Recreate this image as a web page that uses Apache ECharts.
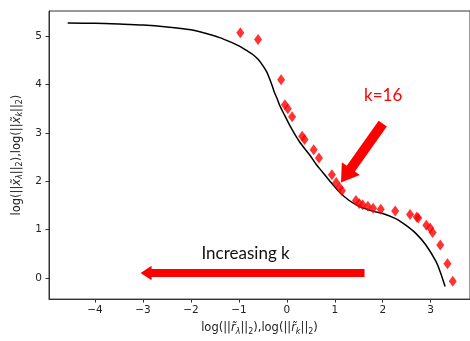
<!DOCTYPE html>
<html>
<head>
<meta charset="utf-8">
<script src="https://cdn.jsdelivr.net/npm/echarts@6/dist/echarts.min.js"></script>
<style>
  html, body { margin: 0; padding: 0; background: #fff; }
  #chart { width: 470px; height: 341px; }
</style>
</head>
<body>
<div id="chart"></div>
<script>
// L-curve (continuous regularisation) — x: log residual norm, y: log solution norm
const curveX = [-4.57, -4.0, -3.5, -3.0, -2.5, -2.0, -1.7, -1.4, -1.2, -1.0, -0.85, -0.71, -0.6, -0.5, -0.42, -0.36, -0.30, -0.26, -0.2, -0.15, -0.05, 0.09, 0.26, 0.47, 0.61, 0.75, 0.89, 1.10, 1.30, 1.51, 1.79, 2.00, 2.28, 2.48, 2.69, 2.90, 3.11, 3.20, 3.30];
const curveY = [5.27, 5.265, 5.25, 5.23, 5.19, 5.13, 5.06, 4.97, 4.89, 4.80, 4.71, 4.62, 4.52, 4.39, 4.26, 4.12, 3.96, 3.84, 3.70, 3.57, 3.37, 3.10, 2.82, 2.55, 2.35, 2.18, 2.01, 1.77, 1.60, 1.48, 1.38, 1.33, 1.22, 1.09, 0.92, 0.68, 0.34, 0.12, -0.18];

// Truncated iterates, one per k
const ptsX = [-0.97, -0.60, -0.12, -0.04, 0.02, 0.11, 0.32, 0.37, 0.56, 0.67, 0.94, 1.03, 1.10, 1.15, 1.44, 1.51, 1.58, 1.69, 1.80, 1.96, 2.26, 2.57, 2.71, 2.74, 2.91, 2.99, 3.04, 3.20, 3.35, 3.46];
const ptsY = [5.07, 4.93, 4.10, 3.58, 3.50, 3.33, 2.93, 2.86, 2.65, 2.48, 2.13, 1.97, 1.87, 1.80, 1.60, 1.54, 1.51, 1.48, 1.44, 1.42, 1.38, 1.31, 1.26, 1.24, 1.09, 1.03, 0.94, 0.68, 0.29, -0.07];

const xTicks = [-4, -3, -2, -1, 0, 1, 2, 3];
const yTicks = [0, 1, 2, 3, 4, 5];

// annotations (data coordinates)
const kArrow = { from: [2.00, 3.19], to: [1.13, 1.97] };
const incArrow = { from: [1.62, 0.10], to: [-3.05, 0.10] };
const kLabel = { text: 'k=16', at: [2.01, 3.77] };
const incLabel = { text: 'Increasing k', at: [-0.86, 0.50] };

const axisColor = '#333';
const minus = v => String(v).replace('-', '\u2212');

const subStyles = {
  r: { fontFamily: 'DejaVu Sans', fontStyle: 'italic', fontSize: 11.5, color: '#222', lineHeight: 15 },
  s: { fontFamily: 'DejaVu Sans', fontStyle: 'italic', fontSize: 8, color: '#222', verticalAlign: 'bottom', lineHeight: 9 },
  n: { fontFamily: 'DejaVu Sans', fontSize: 8, color: '#222', verticalAlign: 'bottom', lineHeight: 9 }
};

const chart = echarts.init(document.getElementById('chart'), null, { renderer: 'canvas' });

chart.setOption({
  animation: false,
  backgroundColor: '#fff',
  grid: { left: 49, top: 11, right: -1, bottom: 38, show: true, borderColor: axisColor, borderWidth: 1 },
  xAxis: {
    type: 'value', min: -4.96, max: 3.82,
    axisLine: { show: true, onZero: false, lineStyle: { color: axisColor, width: 1 } },
    axisTick: { show: true, length: 3.5, customValues: xTicks, lineStyle: { color: axisColor } },
    axisLabel: { customValues: xTicks, formatter: minus, color: '#222', fontFamily: 'DejaVu Sans', fontSize: 10.5, margin: 6 },
    splitLine: { show: false },
    name: 'log(||{r|r\u0303}{s|\u03bb}||{n|2}),log(||{r|r\u0303}{s|k}||{n|2})',
    nameLocation: 'middle', nameGap: 21,
    nameTextStyle: { fontFamily: 'DejaVu Sans', fontSize: 11.5, color: '#222', lineHeight: 15, rich: subStyles }
  },
  yAxis: {
    type: 'value', min: -0.44, max: 5.52,
    axisLine: { show: true, onZero: false, lineStyle: { color: axisColor, width: 1 } },
    axisTick: { show: true, length: 3.5, customValues: yTicks, lineStyle: { color: axisColor } },
    axisLabel: { customValues: yTicks, formatter: minus, color: '#222', fontFamily: 'DejaVu Sans', fontSize: 10.5, margin: 7 },
    splitLine: { show: false },
    name: 'log(||{r|x\u0303}{s|\u03bb}||{n|2}),log(||{r|x\u0303}{s|k}||{n|2})',
    nameLocation: 'middle', nameGap: 23, nameRotate: 90,
    nameTextStyle: { fontFamily: 'DejaVu Sans', fontSize: 11.5, color: '#222', lineHeight: 15, rich: subStyles }
  },
  series: [
    {
      type: 'line',
      data: curveX.map((x, i) => [x, curveY[i]]),
      showSymbol: false,
      smooth: 0.3,
      lineStyle: { color: '#000', width: 1.5 },
      z: 2
    },
    {
      type: 'scatter',
      data: ptsX.map((x, i) => [x, ptsY[i]]),
      symbol: 'diamond',
      symbolSize: [8, 11],
      itemStyle: { color: '#ff0000' },
      z: 3
    }
  ]
});

// Arrow polygon from tail to tip, in pixel space
function arrowShape(fromData, toData, shaftHalf, headHalf, headLen) {
  const t = chart.convertToPixel({ gridIndex: 0 }, fromData);
  const p = chart.convertToPixel({ gridIndex: 0 }, toData);
  const dx = p[0] - t[0], dy = p[1] - t[1];
  const len = Math.hypot(dx, dy);
  const ux = dx / len, uy = dy / len;
  const nx = -uy, ny = ux;
  const b = [p[0] - ux * headLen, p[1] - uy * headLen];
  return [
    [t[0] + nx * shaftHalf, t[1] + ny * shaftHalf],
    [b[0] + nx * shaftHalf, b[1] + ny * shaftHalf],
    [b[0] + nx * headHalf, b[1] + ny * headHalf],
    p,
    [b[0] - nx * headHalf, b[1] - ny * headHalf],
    [b[0] - nx * shaftHalf, b[1] - ny * shaftHalf],
    [t[0] - nx * shaftHalf, t[1] - ny * shaftHalf]
  ];
}

const kPos = chart.convertToPixel({ gridIndex: 0 }, kLabel.at);
const incPos = chart.convertToPixel({ gridIndex: 0 }, incLabel.at);

chart.setOption({
  graphic: [
    { type: 'polygon', z: 10, shape: { points: arrowShape(kArrow.from, kArrow.to, 5, 11, 17) }, style: { fill: '#ff0000' } },
    { type: 'polygon', z: 10, shape: { points: arrowShape(incArrow.from, incArrow.to, 4, 7.3, 11) }, style: { fill: '#ff0000' } },
    { type: 'text', z: 10, x: kPos[0], y: kPos[1],
      style: { text: kLabel.text, fill: '#ff0000', font: '17px Lato', align: 'center', verticalAlign: 'middle' } },
    { type: 'text', z: 10, x: incPos[0], y: incPos[1],
      style: { text: incLabel.text, fill: '#111', font: '17px Lato', align: 'center', verticalAlign: 'middle' } }
  ]
});
</script>
</body>
</html>
